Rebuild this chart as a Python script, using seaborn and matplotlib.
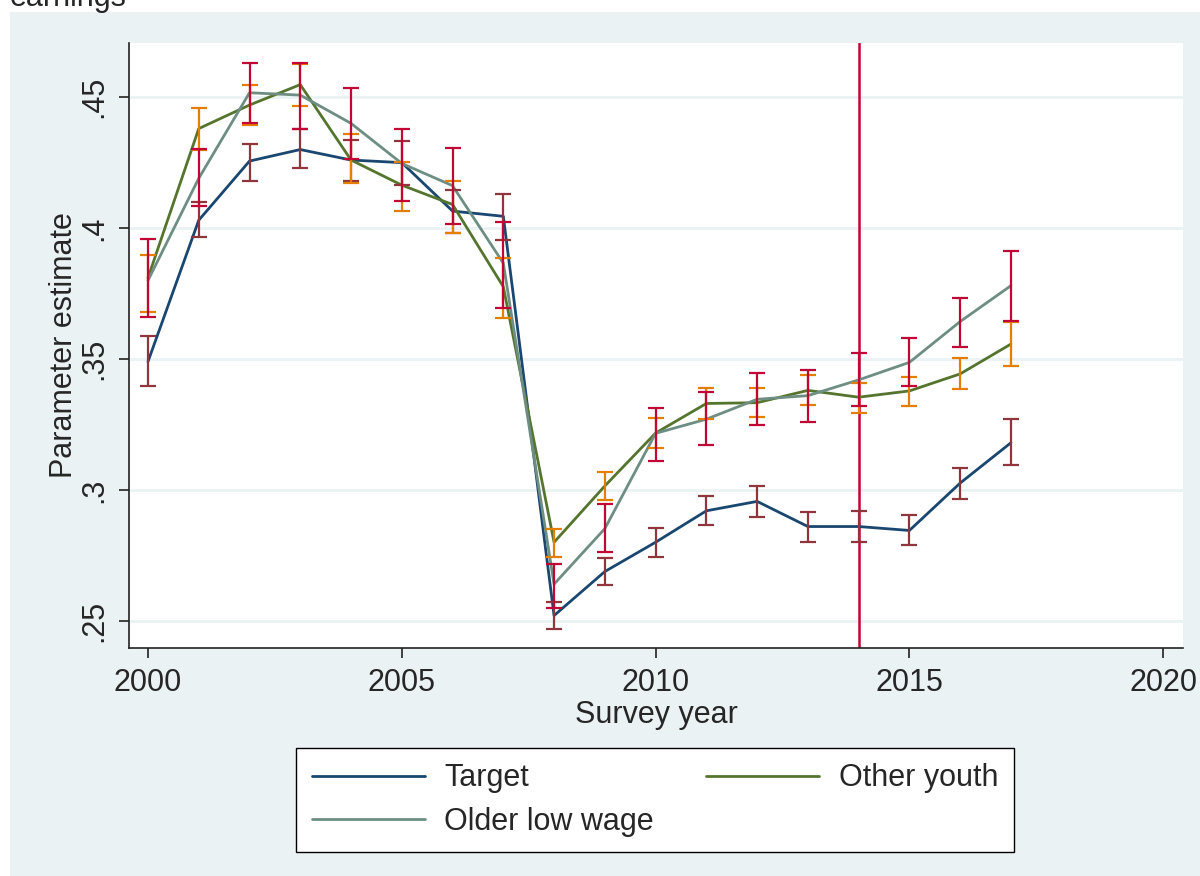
import numpy as np
import pandas as pd
import seaborn as sns
import matplotlib.pyplot as plt
from matplotlib.patches import Rectangle

years = list(range(2000, 2018))

target = [0.349, 0.403, 0.4256, 0.430, 0.426, 0.425, 0.4065, 0.4045, 0.252, 0.2688,
          0.280, 0.292, 0.2956, 0.286, 0.286, 0.2845, 0.3026, 0.318]
target_lo = [0.3397, 0.3966, 0.418, 0.423, 0.418, 0.4163, 0.398, 0.3954, 0.247, 0.2635,
             0.2742, 0.2864, 0.2898, 0.280, 0.280, 0.279, 0.2966, 0.3094]
target_hi = [0.3588, 0.410, 0.432, 0.438, 0.4338, 0.4333, 0.4147, 0.413, 0.257, 0.274,
             0.2856, 0.2978, 0.3015, 0.2915, 0.292, 0.2904, 0.3085, 0.327]

other_youth = [0.381, 0.438, 0.447, 0.4548, 0.426, 0.4164, 0.409, 0.3776, 0.280, 0.3015,
               0.3217, 0.333, 0.3333, 0.338, 0.3354, 0.3378, 0.3443, 0.3557]
other_youth_lo = [0.3678, 0.430, 0.4393, 0.4467, 0.4174, 0.4065, 0.398, 0.3658, 0.2745, 0.296,
                  0.316, 0.327, 0.3277, 0.3324, 0.3295, 0.332, 0.3384, 0.3475]
other_youth_hi = [0.3897, 0.4457, 0.4546, 0.4625, 0.4358, 0.4254, 0.418, 0.3887, 0.285, 0.307,
                  0.3274, 0.339, 0.339, 0.3439, 0.341, 0.3433, 0.3502, 0.3643]

older_low = [0.380, 0.419, 0.4517, 0.4508, 0.440, 0.4247, 0.4162, 0.3866, 0.264, 0.2852,
             0.3216, 0.327, 0.3346, 0.336, 0.342, 0.3487, 0.3643, 0.378]
older_low_lo = [0.366, 0.4084, 0.4403, 0.438, 0.4263, 0.4103, 0.4015, 0.3693, 0.2548, 0.2762,
                0.311, 0.317, 0.3248, 0.326, 0.332, 0.3397, 0.3544, 0.3646]
older_low_hi = [0.3958, 0.4304, 0.4632, 0.4629, 0.4537, 0.438, 0.4306, 0.4024, 0.2718, 0.2946,
                0.3312, 0.3373, 0.3445, 0.3458, 0.3522, 0.3579, 0.3734, 0.3913]

groups = ["Target", "Other youth", "Older low wage"]
line_colors = ["#1a476f", "#55752f", "#6e8e84"]
ci_colors = ["#90353b", "#e37e00", "#c10534"]
yticks = [0.25, 0.3, 0.35, 0.4, 0.45]
ytick_labels = [".25", ".3", ".35", ".4", ".45"]
xticks = [2000, 2005, 2010, 2015, 2020]
policy_year = 2014

df = pd.DataFrame({
    "year": years * 3,
    "estimate": target + other_youth + older_low,
    "lo": target_lo + other_youth_lo + older_low_lo,
    "hi": target_hi + other_youth_hi + older_low_hi,
    "group": [g for g in groups for _ in years],
})

sns.set_style("white")
plt.rcParams["font.family"] = ["Liberation Sans", "DejaVu Sans"]

bg = "#eaf2f3"
fs = 22
fig = plt.figure(figsize=(12, 8.76), dpi=100)
fig.patches.append(Rectangle((10 / 1200, 0), 1, 1 - 12 / 876, transform=fig.transFigure,
                             facecolor=bg, edgecolor="none", zorder=-10))
# title above the chart is cut off at the top of the picture
fig.text(10 / 1200, 1 - 6 / 876, "earnings", fontsize=fs, va="baseline", ha="left")

ax = fig.add_axes([129 / 1200, 1 - 648 / 876, 1054 / 1200, 605 / 876])
ax.set_facecolor("white")

ax.axvline(policy_year, color="#c10534", lw=1.8, zorder=1)

sns.lineplot(data=df, x="year", y="estimate", hue="group", hue_order=groups,
             palette=line_colors, lw=2.0, ax=ax, zorder=3)

for g, c in zip(groups, ci_colors):
    d = df[df["group"] == g]
    ax.errorbar(d["year"], (d["lo"] + d["hi"]) / 2, yerr=(d["hi"] - d["lo"]) / 2,
                fmt="none", ecolor=c, elinewidth=1.6, capsize=5.5, capthick=1.6, zorder=4)

ax.set_xlim(1999.626, 2020.39)
ax.set_ylim(0.2396, 0.4707)
ax.set_xticks(xticks)
ax.set_xticklabels([str(x) for x in xticks], fontsize=fs)
ax.set_yticks(yticks)
ax.set_yticklabels(ytick_labels, fontsize=fs, rotation=90, va="center")
ax.tick_params(axis="both", direction="out", length=7.5, width=1.2, color="#222222", pad=7,
               left=True, bottom=True)
ax.yaxis.grid(True, color=bg, lw=2)
ax.xaxis.grid(False)
ax.set_axisbelow(True)
for s in ["top", "right"]:
    ax.spines[s].set_visible(False)
for s in ["left", "bottom"]:
    ax.spines[s].set_color("#222222")
    ax.spines[s].set_linewidth(1.2)

ax.set_xlabel("Survey year", fontsize=fs, labelpad=1)
ax.set_ylabel("Parameter estimate", fontsize=fs, labelpad=0)

handles, labels = ax.get_legend_handles_labels()
order = [0, 2, 1]
ax.legend([handles[i] for i in order], [labels[i] for i in order], ncol=2,
          loc="upper center", bbox_to_anchor=(655 / 1200, 1 - 748 / 876),
          bbox_transform=fig.transFigure, fontsize=fs, frameon=True, fancybox=False,
          edgecolor="black", framealpha=1, handlelength=3.7, handletextpad=0.65,
          columnspacing=1.7, borderpad=0.5, labelspacing=0.45, borderaxespad=0)

fig.savefig("out.png", dpi=100)
